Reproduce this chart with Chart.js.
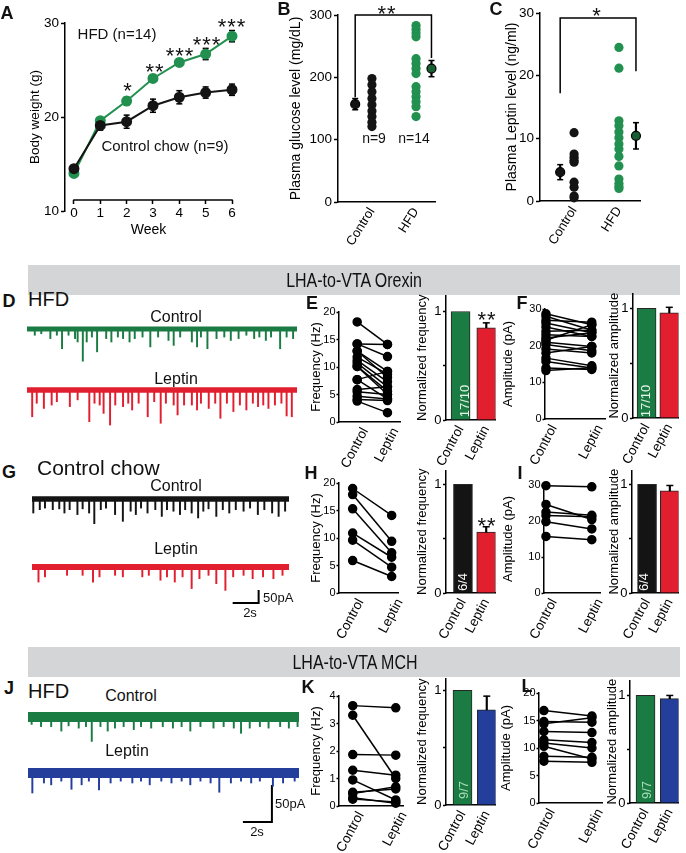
<!DOCTYPE html>
<html>
<head>
<meta charset="utf-8">
<script src="https://cdn.jsdelivr.net/npm/chart.js@4.4.1/dist/chart.umd.min.js"></script>
<style>
html, body { margin: 0; padding: 0; background: #fff; }
#fig { position: relative; width: 686px; height: 853px; overflow: hidden; font-family: 'Liberation Sans', Arial, sans-serif; color: #111; }
#fig canvas { position: absolute; }
.band { position: absolute; left: 28px; width: 652px; height: 30px; background: #d3d5d6; }
</style>
</head>
<body>
<div id="fig">
  <div class="band" style="top:265px"></div>
  <div class="band" style="top:647px"></div>
</div>
<script>
// --- DATA: A body weight ---
const weeks = [0, 1, 2, 3, 4, 5, 6];
const hfdWeight = [14.0, 19.6, 21.7, 24.1, 25.8, 26.7, 28.6];
const hfdWeightSem = [0.3, 0.3, 0.4, 0.4, 0.4, 0.6, 0.6];
const chowWeight = [14.5, 19.1, 19.5, 21.2, 22.1, 22.6, 22.9];
const chowWeightSem = [0.3, 0.5, 0.7, 0.7, 0.7, 0.6, 0.6];

// --- DATA: B glucose, C leptin ---
const groups = ['Control', 'HFD'];
const glucoseControl = [198, 188, 177, 166, 156, 146, 137, 128, 121];
const glucoseHfd = [283, 277, 271, 265, 230, 222, 214, 206, 185, 177, 169, 161, 153, 137];
const glucoseMean = [157, 214];
const glucoseSem = [9, 13];
const glucoseBracket = [168, 300, 231];
const leptinControl = [10.9, 7.5, 7.0, 6.5, 6.2, 3.0, 2.2, 0.8, 0.5];
const leptinHfd = [24.5, 21.2, 12.8, 12.0, 11.0, 10.1, 9.1, 8.3, 7.1, 5.6, 3.5, 2.8, 2.3, 2.0];
const leptinMean = [4.6, 10.4];
const leptinSem = [1.2, 2.1];
const leptinBracket = [17.2, 29.2, 20.7];

// --- DATA: sEPSC traces, event times (s) and amplitudes (pA) ---
const dCtrlT = [0.6,1.1,1.8,2.3,2.7,3.2,3.7,3.9,4.3,4.6,5.0,5.4,6.1,6.5,7.0,7.4,7.9,8.3,8.9,9.5,10.1,10.9,11.3,11.8,12.7,13.1,13.4,13.9,14.6,15.2,15.7,16.3,16.9,17.5,17.9,18.4,18.8,19.5,20.0,20.5];
const dCtrlA = [24,18,37,24,76,24,37,50,124,50,31,88,37,50,31,37,50,37,31,69,31,44,63,31,50,69,31,76,37,31,44,37,24,37,31,44,31,76,31,37];
const dLepT = [0.4,0.75,1.3,1.9,2.3,3.3,3.9,4.8,5.2,5.6,5.9,6.4,6.8,7.4,7.8,8.1,8.6,9.3,9.8,10.3,10.7,11.3,11.6,12.1,12.7,13.1,13.4,14.0,14.5,14.9,15.4,15.9,16.4,16.9,17.4,17.8,18.2,18.6,19.1,19.6,20.0,20.4];
const dLepA = [103,51,71,58,45,64,38,122,51,58,90,135,58,64,51,77,51,103,45,128,51,58,96,58,58,77,51,71,51,109,51,83,58,77,51,64,58,71,58,51,100,103];
const gCtrlT = [0.1,0.6,1.0,1.6,2.1,2.5,2.9,3.5,3.9,4.4,4.8,5.3,5.7,6.4,7.0,7.6,8.0,8.4,8.9,9.5,10.0,10.4,10.9,11.4,11.8,12.3,12.8,13.2,13.6,14.2,14.7,15.2,15.7,16.3,16.8,17.4,17.9,18.5,19.0,19.5];
const gCtrlA = [54,41,35,41,38,54,41,60,38,54,95,41,35,60,86,47,60,35,54,41,67,41,47,60,41,54,73,47,38,67,41,54,41,47,35,60,41,54,67,47];
const gLepT = [0.5,1.0,2.7,3.9,4.7,5.2,6.4,7.0,8.5,9.0,9.9,10.4,11.0,11.6,12.3,12.9,13.6,14.2,14.9,15.5,16.3,17.0,17.8,18.6,19.3];
const gLepA = [58,38,32,32,58,38,32,38,38,32,51,38,58,38,83,45,32,64,90,38,32,45,38,45,32];
const jCtrlT = [0.25,0.9,1.6,2.3,2.8,3.5,4.0,4.4,5.0,5.5,6.0,6.6,7.3,7.8,8.5,9.3,10.0,10.6,11.2,11.9,12.8,13.5,14.2,14.7,15.3,16.0,16.6,17.4,18.0,18.6];
const jCtrlA = [10,13,13,19,12,15,13,33,13,19,15,13,17,13,15,13,15,13,19,13,15,13,15,22,15,13,15,13,15,13];
const jLepT = [0.3,1.1,1.6,2.3,3.0,3.7,4.2,4.9,5.7,6.4,7.2,7.8,8.4,9.2,9.9,10.6,11.2,11.9,12.6,13.2,14.0,14.7,15.4,16.0,16.9,17.6,18.4];
const jLepA = [27,13.5,16,11,22,16,11,23,13.5,11,13.5,11,16,11,13.5,11,16,11,13.5,26,13.5,11,13.5,11,18,13.5,11];
// scale bars: 2 s x 50 pA
const gScaleT = [15.46, 17.46, 17.46], gScaleA = [-138.6, -138.6, -88.6];
const jScaleT = [14.83, 16.83, 16.83], jScaleA = [-66.2, -66.2, -16.2];

// --- DATA: paired cells, control vs leptin ---
const conditions = ['Control', 'Leptin'];
const eFreqCtrl = [18.2, 14.2, 14.2, 12.9, 12.9, 11.8, 11.2, 10.7, 10.1, 10.1, 7.7, 7.7, 5.9, 5.5, 4.7, 4.1, 3.8];
const eFreqLep = [14.1, 14.1, 11.9, 9.2, 8.1, 8.7, 7.3, 6.4, 5.6, 5.0, 9.2, 4.2, 6.4, 5.0, 4.2, 3.9, 1.7];
const fAmpCtrl = [28.7, 28.0, 26.9, 26.2, 25.1, 23.9, 23.0, 22.1, 21.5, 20.9, 20.3, 19.1, 18.0, 16.6, 15.7, 13.9, 13.2];
const fAmpLep = [25.7, 24.2, 26.4, 23.5, 22.5, 24.2, 22.5, 23.5, 25.7, 19.8, 18.6, 18.0, 19.8, 14.5, 13.9, 13.5, 14.0];
const hFreqCtrl = [19.0, 17.9, 15.3, 10.9, 9.6, 5.9];
const hFreqLep = [14.1, 9.4, 7.3, 6.5, 4.7, 3.0];
const iAmpCtrl = [29.8, 24.6, 22.5, 21.5, 19.8, 15.7];
const iAmpLep = [29.5, 20.4, 21.6, 21.2, 17.8, 14.8];
const kFreqCtrl = [3.65, 3.3, 1.87, 1.3, 0.95, 0.5, 0.45, 0.3, 0.25];
const kFreqLep = [3.57, 1.0, 1.85, 1.12, 0.22, 0.62, 0.7, 0.1, 0.15];
const lAmpCtrl = [16.8, 14.8, 14.4, 13.0, 11.5, 10.9, 10.3, 8.5, 7.6];
const lAmpLep = [15.8, 14.7, 15.5, 12.8, 11.0, 10.0, 8.0, 8.3, 7.4];

// normalized means (control = 1) and SEM
const eNorm = [1, 0.85], eNormSem = [0, 0.045];
const fNorm = [1, 0.96], fNormSem = [0, 0.05];
const hNorm = [1, 0.56], hNormSem = [0, 0.05];
const iNorm = [1, 0.94], iNormSem = [0, 0.05];
const kNorm = [1, 0.83], kNormSem = [0, 0.12];
const lNorm = [1, 0.97], lNormSem = [0, 0.03];

// --- SETUP ---
Chart.defaults.font.family = "'Liberation Sans', Arial, sans-serif";
Chart.defaults.color = '#000';
Chart.defaults.animation = false;
Chart.defaults.events = [];
Chart.defaults.plugins.legend.display = false;
Chart.defaults.plugins.tooltip.enabled = false;

const fig = document.getElementById('fig');
const GREEN = '#1b7c43', DOT_GREEN = '#22904f', RED = '#e11f2f', BLUE = '#233e9b', BLACK = '#141414';

function makeCanvas(left, top, width, height) {
    const c = document.createElement('canvas');
    c.width = width; c.height = height;
    c.style.cssText = `left:${left}px;top:${top}px;width:${width}px;height:${height}px`;
    fig.appendChild(c);
    return c;
}

// fix the axis box size and drop the label overflow padding
function fit(size, horizontal) {
    return s => {
        if (size != null) { if (horizontal) s.height = size; else s.width = size; }
        s.paddingTop = s.paddingBottom = s.paddingLeft = s.paddingRight = 0;
    };
}

// area = [left, top, right, bottom] of the plot area on the page
function panel(area, yW, xH, pad, config) {
    const left = area[0] - yW, top = area[1] - pad[0];
    const canvas = makeCanvas(left, top, Math.round(area[2] + pad[1] - left), Math.round(area[3] + xH + pad[2] - top));
    config.options = Object.assign({ responsive: false, layout: { padding: { top: pad[0], right: pad[1], bottom: pad[2], left: 0 } } }, config.options);
    return new Chart(canvas, config);
}

function yAxis(min, max, ticks, area, yW, title, titleX, o = {}) {
    const tsize = o.tsize || 13;
    return {
        type: 'linear', min, max,
        afterBuildTicks: s => { s.ticks = ticks.map(v => ({ value: v })); },
        afterFit: fit(yW, false),
        border: { color: '#000', width: 1.5 },
        grid: { drawOnChartArea: false, tickLength: o.tl || 4, tickWidth: 1.5, tickColor: '#000' },
        ticks: { font: { size: o.size || 12 }, padding: o.tp == null ? 2 : o.tp, callback: o.fmt || (v => v) },
        title: { display: true, text: title, font: { size: tsize }, padding: { top: titleX - (area[0] - yW) - tsize * 0.6, bottom: 0 } }
    };
}

function catAxis(min, max, names, rot, size, offset, xH) {
    return {
        type: 'linear', min, max, offset: false,
        afterBuildTicks: s => { s.ticks = names.map((n, i) => ({ value: i + 1 })); },
        afterFit: fit(xH, true),
        border: { color: '#000', width: 1.5 },
        grid: { drawOnChartArea: false, drawTicks: false, offset: false },
        ticks: { font: { size }, padding: 3, autoSkip: false, minRotation: rot, maxRotation: rot, labelOffset: offset, callback: v => names[v - 1] }
    };
}

function errorSets(xs, ys, err, both, capR) {
    const keep = xs.map((x, i) => err[i] > 0);
    const stems = {
        type: 'bar', grouped: false, barThickness: 1.5, backgroundColor: '#000', clip: false, order: 6,
        data: xs.map((x, i) => ({ x, y: [both ? ys[i] - err[i] : ys[i], ys[i] + err[i]] })).filter((d, i) => keep[i])
    };
    const capData = [];
    xs.forEach((x, i) => {
        if (!keep[i]) return;
        capData.push({ x, y: ys[i] + err[i] });
        if (both) capData.push({ x, y: ys[i] - err[i] });
    });
    const caps = { type: 'scatter', data: capData, pointStyle: 'line', pointRadius: capR, pointBorderColor: '#000', pointBorderWidth: 1.5, clip: false, order: 5 };
    return [stems, caps];
}

function txt(s, x, y, size, o = {}) {
    const d = document.createElement('div');
    d.textContent = s;
    d.style.cssText = `position:absolute;left:${x}px;top:${y}px;font-size:${size}px;line-height:1;white-space:nowrap;` +
        `transform:translate(${o.left ? '0' : '-50%'},-50%)${o.rot ? ` rotate(${o.rot}deg)` : ''}${o.sx ? ` scaleX(${o.sx})` : ''};` + (o.css || '');
    fig.appendChild(d);
}
const star = (s, x, y, size) => txt(s, x, y + 0.23 * size, size, { css: 'letter-spacing:1px' });

// --- A: body weight ---
panel([65, 23, 232, 211], 65, 0, [12, 10, 34], {
    type: 'scatter',
    data: { datasets: [
        { type: 'line', data: weeks.map((w, i) => ({ x: w, y: chowWeight[i] })), borderColor: BLACK, borderWidth: 2, pointRadius: 4.5, pointBackgroundColor: BLACK, pointBorderColor: BLACK, clip: false, order: 0 },
        { type: 'line', data: weeks.map((w, i) => ({ x: w, y: hfdWeight[i] })), borderColor: DOT_GREEN, borderWidth: 2, pointRadius: 4.5, pointBackgroundColor: DOT_GREEN, pointBorderColor: DOT_GREEN, clip: false, order: 1 },
        ...errorSets(weeks, chowWeight, chowWeightSem, true, 3),
        ...errorSets(weeks, hfdWeight, hfdWeightSem, true, 3)
    ] },
    options: {
        scales: {
            x: {
                type: 'linear', min: -0.34, max: 6, position: { y: 11.17 }, offset: false,
                afterBuildTicks: s => { s.ticks = weeks.map(v => ({ value: v })); },
                afterFit: fit(null, true),
                border: { display: false },
                grid: { drawOnChartArea: false, offset: false, tickLength: 4, tickWidth: 1.5, tickColor: '#000' },
                ticks: { font: { size: 13.5 }, padding: 1, maxRotation: 0 },
                title: { display: true, text: 'Week', font: { size: 14 }, padding: { top: 0, bottom: 0 } }
            },
            y: yAxis(10, 30, [10, 20, 30], [65], 65, 'Body weight (g)', 35, { size: 13.5, tsize: 13.5 })
        }
    },
    plugins: [{
        id: 'weekAxis',
        afterDatasetsDraw(c) {
            const { x, y } = c.scales, ctx = c.ctx, py = y.getPixelForValue(11.17);
            ctx.save();
            ctx.strokeStyle = '#000'; ctx.lineWidth = 1.5;
            ctx.beginPath(); ctx.moveTo(x.getPixelForValue(0) - 0.75, py); ctx.lineTo(x.getPixelForValue(6) + 0.75, py); ctx.stroke();
            ctx.restore();
        }
    }]
});

// --- B, C: scatter of animals with mean +- SEM ---
function groupPanel(area, xr, yr, yTicks, ctrl, hfd, mean, sem, bracket, shift, title, titleX) {
    const mx = [1 + shift[0], 2 + shift[1]];
    return panel(area, 56, 48, [10, 8, 0], {
        type: 'scatter',
        data: { datasets: [
            { data: mx.map((x, i) => ({ x, y: mean[i] })), pointRadius: 4.5, pointBackgroundColor: [BLACK, '#175f33'], pointBorderColor: '#000', pointBorderWidth: 1.2, clip: false, order: 0 },
            { data: ctrl.map(v => ({ x: 1, y: v })), pointRadius: 4.6, pointBackgroundColor: BLACK, pointBorderWidth: 0, clip: false, order: 1 },
            { data: hfd.map(v => ({ x: 2, y: v })), pointRadius: 4.6, pointBackgroundColor: DOT_GREEN, pointBorderWidth: 0, clip: false, order: 1 },
            { type: 'line', data: [{ x: mx[0], y: bracket[0] }, { x: mx[0], y: bracket[1] }, { x: mx[1], y: bracket[1] }, { x: mx[1], y: bracket[2] }], borderColor: '#000', borderWidth: 1.5, pointRadius: 0, clip: false, order: 3 },
            ...errorSets(mx, mean, sem, true, 3)
        ] },
        options: { scales: {
            x: catAxis(xr[0], xr[1], groups, 58, 13, 0, 48),
            y: yAxis(yr[0], yr[1], yTicks, area, 56, title, titleX, { size: 13.5, tsize: 14 })
        } }
    });
}
groupPanel([338, 15, 435, 201.5], [0.23, 2.43], [0, 300], [0, 100, 200, 300], glucoseControl, glucoseHfd, glucoseMean, glucoseSem, glucoseBracket, [-0.38, 0.35], 'Plasma glucose level (mg/dL)', 296);
groupPanel([540, 13, 640, 201], [0.24, 2.47], [0, 30], [0, 10, 20, 30], leptinControl, leptinHfd, leptinMean, leptinSem, leptinBracket, [-0.31, 0.38], 'Plasma Leptin level (ng/ml)', 512);

// --- traces ---
function trace(left, top, width, height, T, yr, times, amps, color, band, bar) {
    const datasets = [
        { type: 'line', data: [{ x: 0, y: 0 }, { x: T, y: 0 }], borderColor: color, borderWidth: band, pointRadius: 0, clip: false },
        { type: 'bar', data: times.map((t, i) => ({ x: t, y: [-amps[i], 0] })), backgroundColor: color, barThickness: 1.3, grouped: false, clip: false }
    ];
    if (bar) datasets.push({ type: 'line', data: bar[0].map((t, i) => ({ x: t, y: bar[1][i] })), borderColor: '#000', borderWidth: 2, pointRadius: 0, clip: false });
    new Chart(makeCanvas(left, top, width, height), {
        type: 'scatter',
        data: { datasets },
        options: { responsive: false, layout: { padding: 0 }, scales: {
            x: { type: 'linear', display: false, offset: false, min: 0, max: T },
            y: { type: 'linear', display: false, min: yr[0], max: yr[1] }
        } }
    });
}
trace(27, 324, 270, 50, 20.8, [-173.3, 19.3], dCtrlT, dCtrlA, GREEN, 5, null);
trace(27, 385, 270, 50, 20.8, [-173.3, 19.3], dLepT, dLepA, RED, 5.5, null);
trace(32, 494, 257, 50, 19.8, [-173.3, 19.3], gCtrlT, gCtrlA, BLACK, 5.5, null);
trace(32, 560, 257, 50, 19.8, [-165.5, 27], gLepT, gLepA, RED, 6, [gScaleT, gScaleA]);
trace(28, 707, 271, 40, 18.7, [-40.5, 13.5], jCtrlT, jCtrlA, GREEN, 10, null);
trace(28, 763, 271, 65, 18.7, [-74.3, 13.5], jLepT, jLepA, BLUE, 10, [jScaleT, jScaleA]);

// --- paired cells ---
function paired(area, yW, xr, yr, yTicks, ctrl, lep, title, titleX) {
    const datasets = ctrl.map((c, i) => ({
        type: 'line', data: [{ x: 1, y: c }, { x: 2, y: lep[i] }], borderColor: '#000', borderWidth: 1.5,
        pointRadius: 4, pointBackgroundColor: '#000', pointBorderColor: '#000', clip: false
    }));
    panel(area, yW, 45, [8, 4, 0], {
        type: 'scatter', data: { datasets },
        options: { scales: {
            x: catAxis(xr[0], xr[1], conditions, 62, 13.5, 8, 45),
            y: yAxis(yr[0], yr[1], yTicks, area, yW, title, titleX, { size: 11, tl: 2.5, tp: 1 })
        } }
    });
}
paired([339, 312, 402, 422], 39, [0.4, 2.43], [0, 20], [0, 5, 10, 15, 20], eFreqCtrl, eFreqLep, 'Frequency (Hz)', 316);
paired([545, 309, 607, 419], 45, [0.979, 2.3], [0, 30], [0, 10, 20, 30], fAmpCtrl, fAmpLep, 'Amplitude (pA)', 508);
paired([339, 483, 400, 593], 39, [0.65, 2.175], [0, 20], [0, 5, 10, 15, 20], hFreqCtrl, hFreqLep, 'Frequency (Hz)', 316);
paired([544, 485, 602, 593], 45, [0.957, 2.19], [0, 30], [0, 10, 20, 30], iAmpCtrl, iAmpLep, 'Amplitude (pA)', 508);
paired([339, 696, 405, 806], 39, [0.68, 2.18], [0, 4], [0, 1, 2, 3, 4], kFreqCtrl, kFreqLep, 'Frequency (Hz)', 316);
paired([539, 693, 604, 803], 45, [0.898, 2.22], [0, 20], [0, 5, 10, 15, 20], lAmpCtrl, lAmpLep, 'Amplitude (pA)', 506);

// --- normalized bars ---
function normBars(area, yW, xr, yMax, vals, sem, colors, title, titleX) {
    const xs = vals.map((v, i) => i + 1);
    panel(area, yW, 45, [5, 4, 0], {
        type: 'scatter',
        data: { datasets: [
            { type: 'bar', data: vals.map((v, i) => ({ x: i + 1, y: v })), backgroundColor: colors, borderColor: '#262626', borderWidth: 1, barThickness: 19, grouped: false, order: 7 },
            ...errorSets(xs, vals, sem, false, 3.5)
        ] },
        options: { scales: {
            x: catAxis(xr[0], xr[1], conditions, 62, 13.5, 0, 45),
            y: yAxis(0, yMax, [0, 0.5, 1], area, yW, title, titleX, { size: 13, tl: 3, tp: 1.5, fmt: v => (v === 0.5 ? '' : v) })
        } }
    });
}
normBars([446, 295, 497, 420], 38, [0.434, 2.358], 1.147, eNorm, eNormSem, [GREEN, RED], 'Normalized frequency', 422);
normBars([633, 293, 680, 418], 30, [0.404, 2.404], 1.136, fNorm, fNormSem, [GREEN, RED], 'Normalized amplitude', 614);
normBars([446, 470, 497, 593], 38, [0.27, 2.4], 1.128, hNorm, hNormSem, [BLACK, RED], 'Normalized frequency', 422);
normBars([632, 470, 680, 593], 30, [0.34, 2.38], 1.128, iNorm, iNormSem, [BLACK, RED], 'Normalized amplitude', 614);
normBars([446, 678, 497, 805], 38, [0.32, 2.36], 1.104, kNorm, kNormSem, [GREEN, BLUE], 'Normalized frequency', 422);
normBars([630, 680, 680, 803], 30, [0.36, 2.36], 1.139, lNorm, lNormSem, [GREEN, BLUE], 'Normalized amplitude', 612);

// --- TEXT ---
const bold = { css: 'font-weight:bold' };
[['A', 7, 13], ['B', 284, 9], ['C', 496, 9], ['D', 9, 301], ['E', 312, 303], ['F', 522, 303],
 ['G', 9, 472], ['H', 311, 473], ['I', 520, 473], ['J', 9, 688], ['K', 308, 687], ['L', 527, 686]]
    .forEach(([s, x, y]) => txt(s, x, y, 18, bold));

txt('HFD (n=14)', 117, 33, 15);
txt('Control chow (n=9)', 165, 145, 15);
star('*', 128, 86, 22); star('**', 155, 67, 22); star('***', 180, 51, 22); star('***', 207, 40, 22); star('***', 232, 22, 22);
star('**', 387, 9, 22);
txt('n=9', 374, 138, 14); txt('n=14', 414, 138, 14);
star('*', 597, 11, 22);

txt('LHA-to-VTA Orexin', 354, 280, 20, { sx: 0.8 });
txt('LHA-to-VTA MCH', 355, 662, 20, { sx: 0.8 });

txt('HFD', 28, 299, 20, { left: true });
txt('Control', 176, 317, 16); txt('Leptin', 176, 379, 16);
txt('Control chow', 37, 467, 21, { left: true });
txt('Control', 176, 486, 16); txt('Leptin', 176, 549, 16);
txt('50pA', 263, 597, 13, { left: true }); txt('2s', 250, 612, 13);
txt('HFD', 28, 691, 20, { left: true });
txt('Control', 131, 696, 16); txt('Leptin', 127, 751, 16);
txt('50pA', 275, 803, 13, { left: true }); txt('2s', 257, 831, 13);

star('**', 487, 315, 22); star('**', 487, 521, 22);
txt('17/10', 464, 401, 13, { rot: -90, css: 'color:#e6f4ea' });
txt('17/10', 645, 401, 13, { rot: -90, css: 'color:#e6f4ea' });
txt('6/4', 462, 582, 13, { rot: -90, css: 'color:#fff' });
txt('6/4', 643, 582, 13, { rot: -90, css: 'color:#fff' });
txt('9/7', 463, 790, 13, { rot: -90, css: 'color:#a9dfb9' });
txt('9/7', 646, 790, 13, { rot: -90, css: 'color:#a9dfb9' });
</script>
</body>
</html>
